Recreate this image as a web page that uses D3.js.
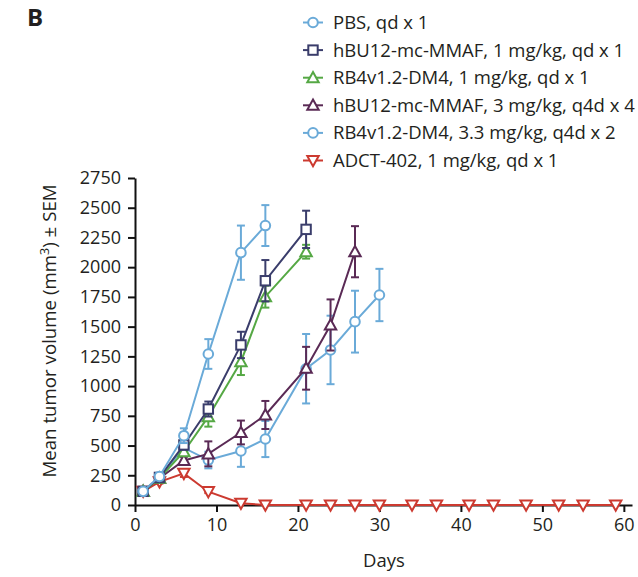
<!DOCTYPE html>
<html><head><meta charset="utf-8">
<script src="https://cdn.jsdelivr.net/npm/d3@7"></script>
<style>
body{margin:0;background:#fff;}
svg{font-family:"Open Sans",sans-serif;}
</style></head>
<body>
<svg id="chart" width="638" height="577"></svg>
<script>
// ---- data ----
const seriesNames = ["PBS, qd x 1","hBU12-mc-MMAF, 1 mg/kg, qd x 1","RB4v1.2-DM4, 1 mg/kg, qd x 1","hBU12-mc-MMAF, 3 mg/kg, q4d x 4","RB4v1.2-DM4, 3.3 mg/kg, q4d x 2","ADCT-402, 1 mg/kg, qd x 1"];
const seriesColors = ["#6aaad8","#3a3d6b","#55a844","#5a2a55","#6aaad8","#cc3a30"];
const seriesMarkers = ["circle","square","triangle","triangle","circle","triangleDown"];

const pbsDays = [1,3,6,9,13,16];
const pbsMean = [115,240,583,1270,2122,2350];
const pbsSem  = [12,20,62,125,228,172];

const hbu1Days = [1,3,6,9,13,16,21];
const hbu1Mean = [115,232,505,807,1346,1886,2318];
const hbu1Sem  = [12,20,40,63,111,174,157];

const rb41Days = [1,3,6,9,13,16,21];
const rb41Mean = [115,225,448,743,1205,1752,2130];
const rb41Sem  = [12,20,30,84,112,92,58];

const hbu3Days = [1,3,6,9,13,16,21,24,27];
const hbu3Mean = [115,225,375,430,610,757,1150,1514,2130];
const hbu3Sem  = [12,20,30,105,100,118,180,215,215];

const rb43Days = [1,3,6,9,13,16,21,24,27,30];
const rb43Mean = [115,232,480,378,454,555,1146,1304,1542,1766];
const rb43Sem  = [12,20,40,70,133,152,292,288,260,220];

const adctDays = [1,3,6,9,13,16,21,24,27,30,34,37,41,44,48,52,55,59];
const adctMean = [115,195,266,112,15,0,0,0,0,0,0,0,0,0,0,0,0,0];
const adctSem  = [10,15,30,12,5,0,0,0,0,0,0,0,0,0,0,0,0,0];

const xTicks = [0,10,20,30,40,50,60];
const yTicks = [0,250,500,750,1000,1250,1500,1750,2000,2250,2500,2750];

const allDays = [pbsDays,hbu1Days,rb41Days,hbu3Days,rb43Days,adctDays];
const allMeans = [pbsMean,hbu1Mean,rb41Mean,hbu3Mean,rb43Mean,adctMean];
const allSems = [pbsSem,hbu1Sem,rb41Sem,hbu3Sem,rb43Sem,adctSem];

const series = seriesNames.map((name,i)=>({
  name, color:seriesColors[i], marker:seriesMarkers[i],
  pts: allDays[i].map((d,j)=>({day:d, mean:allMeans[i][j], sem:allSems[i][j]}))
}));

// ---- chart ----
const svg = d3.select("#chart");
const x = d3.scaleLinear().domain([0,61]).range([135,632]);
const y = d3.scaleLinear().domain([0,2750]).range([505,178]);
const textColor = "#231f20";
const sw = 2;

svg.append("text").attr("x",27).attr("y",26).attr("font-size",24).attr("font-weight","bold")
  .attr("fill",textColor).text("B");

// axes
const xAxis = svg.append("g").attr("transform","translate(0,505)")
  .call(d3.axisBottom(x).tickValues(xTicks).tickFormat(d3.format("d")).tickSize(7).tickPadding(6).tickSizeOuter(0));
const yAxis = svg.append("g").attr("transform","translate(135,0)")
  .call(d3.axisLeft(y).tickValues(yTicks).tickFormat(d3.format("d")).tickSize(7).tickPadding(7).tickSizeOuter(0));
[xAxis,yAxis].forEach(a=>{
  a.select(".domain").attr("stroke","#111").attr("stroke-width",2);
  a.selectAll(".tick line").attr("stroke","#111").attr("stroke-width",2);
  a.selectAll(".tick text").attr("font-size",18).attr("fill",textColor).attr("font-family","Open Sans");
});

svg.append("text").attr("x",384).attr("y",567).attr("text-anchor","middle")
  .attr("font-size",18.5).attr("fill",textColor).text("Days");

const yl = svg.append("text").attr("transform","translate(56,331) rotate(-90)")
  .attr("text-anchor","middle").attr("font-size",18.7).attr("fill",textColor);
yl.append("tspan").text("Mean tumor volume (mm");
yl.append("tspan").attr("font-size",12.5).attr("dy",-7).text("3");
yl.append("tspan").attr("dy",7).text(") \u00b1 SEM");

// marker helper
function drawMarker(g, type, color, cx, cy){
  if(type==="circle"){
    g.append("circle").attr("cx",cx).attr("cy",cy).attr("r",4.8)
      .attr("fill","#fff").attr("stroke",color).attr("stroke-width",sw);
  } else if(type==="square"){
    g.append("rect").attr("x",cx-4.7).attr("y",cy-4.7).attr("width",9.4).attr("height",9.4)
      .attr("fill","#fff").attr("stroke",color).attr("stroke-width",sw);
  } else if(type==="triangle"){
    const s=5.7;
    g.append("path").attr("d",`M${cx},${cy-s}L${cx+s},${cy+s*0.8}L${cx-s},${cy+s*0.8}Z`)
      .attr("fill","#fff").attr("stroke",color).attr("stroke-width",sw);
  } else {
    const s=5.7;
    g.append("path").attr("d",`M${cx},${cy+s}L${cx+s},${cy-s*0.8}L${cx-s},${cy-s*0.8}Z`)
      .attr("fill","#fff").attr("stroke",color).attr("stroke-width",sw);
  }
}

const line = d3.line().x(d=>x(d.day)).y(d=>y(d.mean));
const order = [5,4,3,2,1,0];
order.forEach(i=>{
  const s = series[i];
  const g = svg.append("g");
  s.pts.forEach(p=>{
    if(p.sem<=0) return;
    const cx = x(p.day), y1 = y(p.mean+p.sem), y0 = y(Math.max(0,p.mean-p.sem));
    g.append("line").attr("x1",cx).attr("x2",cx).attr("y1",y1).attr("y2",y0)
      .attr("stroke",s.color).attr("stroke-width",sw);
    [y1,y0].forEach(yy=>g.append("line").attr("x1",cx-4).attr("x2",cx+4).attr("y1",yy).attr("y2",yy)
      .attr("stroke",s.color).attr("stroke-width",sw));
  });
  g.append("path").datum(s.pts).attr("d",line).attr("fill","none")
    .attr("stroke",s.color).attr("stroke-width",sw);
  s.pts.forEach(p=>drawMarker(g,s.marker,s.color,x(p.day),y(p.mean)));
});

// legend
series.forEach((s,i)=>{
  const ly = 22.5 + i*27.6;
  const g = svg.append("g");
  g.append("line").attr("x1",303).attr("x2",323).attr("y1",ly).attr("y2",ly)
    .attr("stroke",s.color).attr("stroke-width",sw);
  drawMarker(g,s.marker,s.color,313,ly);
  g.append("text").attr("x",333).attr("y",ly).attr("dy","0.35em")
    .attr("font-size",18.5).attr("fill",textColor).text(s.name);
});
</script>
</body></html>
